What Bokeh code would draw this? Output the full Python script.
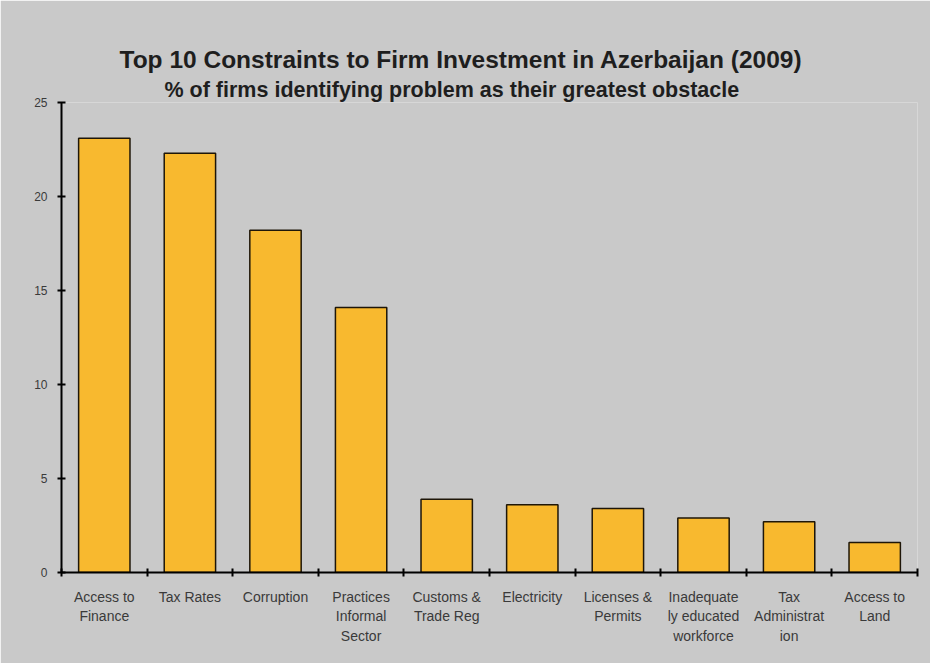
from bokeh.plotting import figure
from bokeh.models import Range1d, FixedTicker, Title
from bokeh.embed import file_html
from bokeh.resources import INLINE

categories = ["Access to\nFinance", "Tax Rates", "Corruption", "Practices\nInformal\nSector",
              "Customs &\nTrade Reg", "Electricity", "Licenses &\nPermits",
              "Inadequate\nly educated\nworkforce", "Tax\nAdministrat\nion", "Access to\nLand"]
values = [23.1, 22.3, 18.2, 14.1, 3.9, 3.6, 3.4, 2.9, 2.7, 1.6]
y_ticks = [0, 5, 10, 15, 20, 25]
title = "Top 10 Constraints to Firm Investment in Azerbaijan (2009)"
subtitle = "% of firms identifying problem as their greatest obstacle"

BG = "#c9c9c9"
n = len(categories)
xs = [i + 0.5 for i in range(n)]

p = figure(width=930, height=663, output_backend="svg", toolbar_location=None,
           x_range=Range1d(0, n), y_range=Range1d(0, 25),
           min_border_left=61, min_border_right=13, min_border_top=102, min_border_bottom=91)
p.background_fill_color = BG
p.border_fill_color = BG
p.outline_line_color = None
p.grid.visible = False

p.vbar(x=xs, top=values, width=0.6, bottom=0, fill_color="#f8b92f",
       line_color="#1e1608", line_width=1.5)

# x axis: category labels at centres, tick marks at boundaries
xa = p.xaxis[0]
xa.ticker = FixedTicker(ticks=xs, minor_ticks=list(range(n + 1)))
xa.major_label_overrides = {x: c for x, c in zip(xs, categories)}
xa.major_tick_in = 0
xa.major_tick_out = 0
xa.minor_tick_in = 4
xa.minor_tick_out = 4
xa.minor_tick_line_width = 2
xa.minor_tick_line_color = "black"
xa.axis_line_width = 2
xa.axis_line_color = "black"
xa.major_label_text_font = "Liberation Sans"
xa.major_label_text_font_size = "14px"
xa.major_label_text_color = "#3a3a3a"
xa.major_label_standoff = 12
xa.major_label_text_line_height = 1.22

ya = p.yaxis[0]
ya.ticker = FixedTicker(ticks=y_ticks)
ya.minor_tick_line_color = None
ya.major_tick_in = 4
ya.major_tick_out = 4
ya.major_tick_line_width = 2
ya.axis_line_width = 2
ya.axis_line_color = "black"
ya.major_label_text_font = "Liberation Sans"
ya.major_label_text_font_size = "12px"
ya.major_label_text_color = "#3a3a3a"
ya.major_label_standoff = 10

p.add_layout(Title(text=subtitle, align="left",
                   text_font="Liberation Sans", text_font_size="21.5px", text_font_style="bold",
                   text_color="#1e1e1e", offset=103, standoff=2), "above")
p.add_layout(Title(text=title, align="left",
                   text_font="Liberation Sans", text_font_size="24.5px", text_font_style="bold",
                   text_color="#1e1e1e", offset=58, standoff=3), "above")

open("out.html", "w").write(file_html(p, INLINE))
